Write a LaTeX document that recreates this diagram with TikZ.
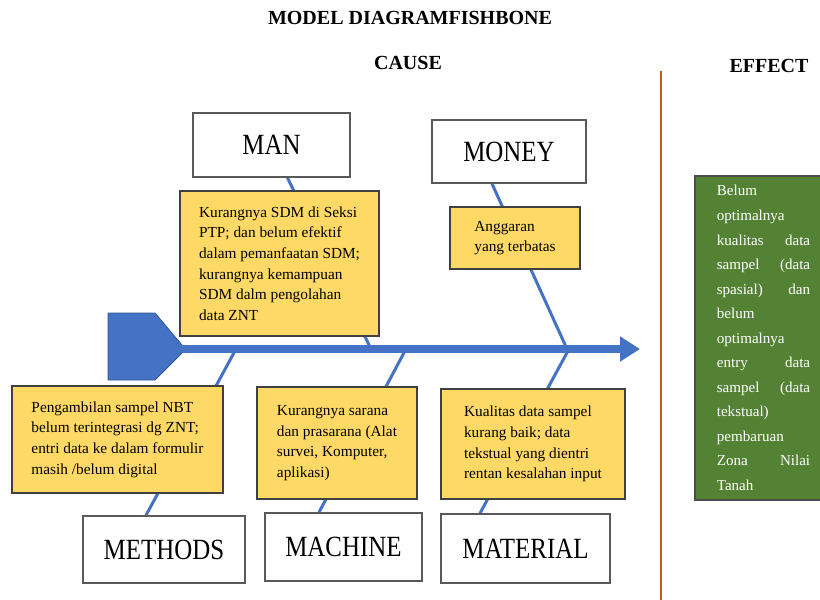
\documentclass[tikz,border=0pt]{standalone}
\usepackage{fontspec}
\setmainfont{Liberation Serif}
\newfontfamily\catfont[FakeStretch=0.85]{Liberation Serif}
\usepackage{xcolor}
\usetikzlibrary{arrows.meta, positioning, backgrounds}

\definecolor{boneblue}{HTML}{4472C4}
\definecolor{causeyellow}{HTML}{FFD966}
\definecolor{effectgreen}{HTML}{548235}
\definecolor{divorange}{HTML}{C55A11}

\begin{document}
\begin{tikzpicture}[x=0.75pt, y=-0.75pt]

    % Define style for boxes
    \tikzstyle{heading} = [font=\fontsize{15}{18}\selectfont\bfseries]
    \tikzstyle{category} = [rectangle, draw=black!65, line width=1.1pt, fill=white, inner sep=0pt, font=\catfont\fontsize{22}{26}\selectfont]
    \tikzstyle{cause} = [rectangle, draw=black!75, line width=0.9pt, fill=causeyellow, inner sep=0pt, align=left, font=\fontsize{11.5}{15.5}\selectfont]
    \tikzstyle{effect} = [rectangle, draw=black!70, line width=1pt, fill=effectgreen, text=white, inner sep=0pt, text width=70pt, align=left, font=\fontsize{11.3}{18.4}\selectfont]
    \tikzstyle{bone} = [draw=boneblue, line width=2.25pt]
    \tikzstyle{spine} = [draw=boneblue, line width=6pt, -{Triangle[length=15pt, width=18pt]}]

    \useasboundingbox (0,0) rectangle (820,599);

    % Headings
    \node (title) [heading] at (410,18) {MODEL DIAGRAMFISHBONE};
    \node (cause) [heading] at (408,63) {CAUSE};
    \node (effecthead) [heading] at (769,66) {EFFECT};

    % Nodes
    \node (man) [category, minimum width=117.75pt, minimum height=48pt] at (271.5,145) {MAN};
    \node (money) [category, minimum width=115.5pt, minimum height=47.25pt] at (509,151.5) {MONEY};
    \node (methods) [category, minimum width=121.5pt, minimum height=50.25pt] at (164,549.5) {METHODS};
    \node (machine) [category, minimum width=117.75pt, minimum height=51pt] at (343.5,547) {MACHINE};
    \node (material) [category, minimum width=126.75pt, minimum height=51.75pt] at (525.5,548.5) {MATERIAL};

    \node (manc) [cause, minimum width=149.25pt, minimum height=108.75pt] at (279.5,263.5)
        {Kurangnya SDM di Seksi\\PTP; dan belum efektif\\dalam pemanfaatan SDM;\\kurangnya kemampuan\\SDM dalm pengolahan\\data ZNT};
    \node (moneyc) [cause, minimum width=97.5pt, minimum height=46.5pt] at (515,238)
        {Anggaran\\yang terbatas};
    \node (methodsc) [cause, minimum width=158.25pt, minimum height=80.25pt] at (117.5,439.5)
        {Pengambilan sampel NBT\\belum terintegrasi dg ZNT;\\entri data ke dalam formulir\\masih /belum digital};
    \node (machinec) [cause, minimum width=120pt, minimum height=84pt] at (337,443)
        {Kurangnya sarana\\dan prasarana (Alat\\survei, Komputer,\\aplikasi)};
    \node (materialc) [cause, minimum width=138pt, minimum height=82.5pt] at (533,444)
        {Kualitas data sampel\\kurang baik; data\\tekstual yang dientri\\rentan kesalahan input};

    \node (result) [effect, minimum width=102.75pt, minimum height=243pt] at (763.5,338)
        {Belum\\optimalnya\\kualitas\hfill data\\sampel\hfill (data\\spasial)\hfill dan\\belum\\optimalnya\\entry\hfill data\\sampel\hfill (data\\tekstual)\\pembaruan\\Zona\hfill Nilai\\Tanah};

    % Spine joints
    \coordinate (tailend) at (178,349);
    \coordinate (tip) at (640,349);
    \coordinate (jmethods) at (236,349);
    \coordinate (jman) at (371,349);
    \coordinate (jmachine) at (406,349);
    \coordinate (jmoney) at (567,349);
    \coordinate (jmaterial) at (569,349);
    \coordinate (divtop) at (661,71);
    \coordinate (divbot) at (661,605);

    % Lines
    \begin{scope}[on background layer]
        \draw[bone] (jman) -- (man);
        \draw[bone] (jmoney) -- ([xshift=-12.75pt]money.south);
        \draw[bone] (jmethods) -- ([xshift=-13.5pt]methods.north);
        \draw[bone] (jmachine) -- ([xshift=-18.375pt]machine.north);
        \draw[bone] (jmaterial) -- ([xshift=-34.125pt]material.north);
    \end{scope}

    % Fish tail and spine
    \draw[fill=boneblue, draw=boneblue!75!black, line width=0.6pt]
        (108,313) -- (155,313) -- (182,345) -- (182,353) -- (155,380) -- (108,380) -- cycle;
    \draw[spine] (tailend) -- (tip);

    \draw[divorange, line width=2.2pt] (divtop) -- (divbot);

\end{tikzpicture}
\end{document}
